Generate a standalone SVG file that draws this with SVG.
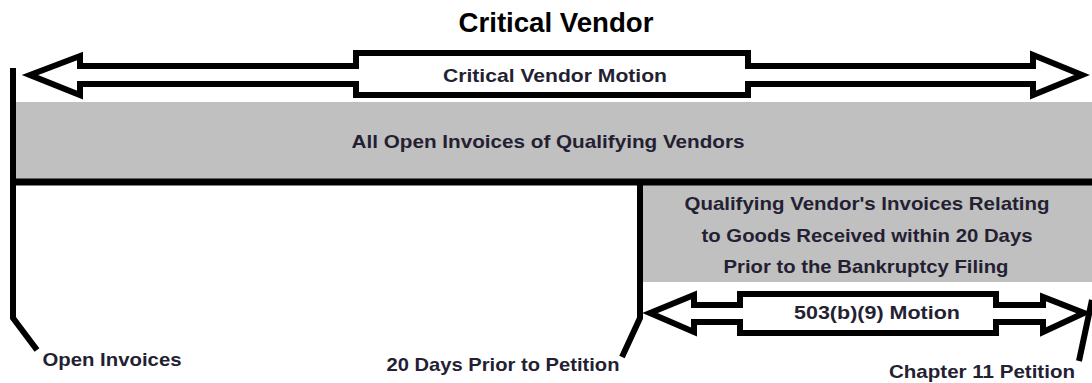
<svg xmlns="http://www.w3.org/2000/svg" width="1092" height="383" viewBox="0 0 1092 383">
<style>
.t{font-family:"Liberation Sans",Arial,sans-serif;font-weight:bold;font-size:19px;fill:#241f33;text-anchor:middle}
.title{font-family:"Liberation Sans",Arial,sans-serif;font-weight:bold;font-size:27px;fill:#000;text-anchor:middle}
.band{fill:#c0c0c0}
.ln{fill:none;stroke:#000;stroke-width:6;stroke-linejoin:miter}
.arr{fill:#fff;stroke:#000;stroke-width:6;stroke-linejoin:miter}
</style>
<rect width="1092" height="383" fill="#fff"/>
<g id="title"><text class="title" x="556" y="32" textLength="195" lengthAdjust="spacingAndGlyphs">Critical Vendor</text></g>
<g id="all-open-invoices">
<rect class="band" x="13" y="102" width="1079" height="77"/>
<text class="t" x="548" y="148" textLength="393" lengthAdjust="spacingAndGlyphs">All Open Invoices of Qualifying Vendors</text>
</g>
<g id="qualifying-20-days">
<rect class="band" x="640" y="185" width="452" height="97"/>
<text class="t" x="867" y="210" textLength="365" lengthAdjust="spacingAndGlyphs">Qualifying Vendor's Invoices Relating</text>
<text class="t" x="867" y="242" textLength="331" lengthAdjust="spacingAndGlyphs">to Goods Received within 20 Days</text>
<text class="t" x="866" y="273" textLength="285" lengthAdjust="spacingAndGlyphs">Prior to the Bankruptcy Filing</text>
</g>
<g id="connectors">
<path class="ln" d="M13,68 L13,318 L37,350"/>
<path class="ln" d="M13,182 L1092,182" style="stroke-width:7"/>
<path class="ln" d="M640,182 L640,318 L622,357"/>
<path class="ln" d="M1092,300 L1079,361"/>
</g>
<g id="critical-vendor-motion">
<path class="arr" d="M30,75 L80,56 L80,66 L356,66 L356,53 L748,53 L748,66 L1033,66 L1033,55 L1082,75 L1033,95 L1033,84 L748,84 L748,95 L356,95 L356,84 L80,84 L80,95 Z"/>
<text class="t" x="555" y="82" textLength="224" lengthAdjust="spacingAndGlyphs">Critical Vendor Motion</text>
</g>
<g id="motion-503b9">
<path class="arr" d="M650,313 L694,295 L694,305 L740,305 L740,294 L996,294 L996,305 L1043,305 L1043,297 L1084,313 L1043,332 L1043,322 L996,322 L996,333 L740,333 L740,322 L694,322 L694,332 Z"/>
<text class="t" x="877" y="319" textLength="166" lengthAdjust="spacingAndGlyphs">503(b)(9) Motion</text>
</g>
<g id="label-open-invoices"><text class="t" x="112" y="366" textLength="139" lengthAdjust="spacingAndGlyphs">Open Invoices</text></g>
<g id="label-20-days"><text class="t" x="503" y="371" textLength="233" lengthAdjust="spacingAndGlyphs">20 Days Prior to Petition</text></g>
<g id="label-chapter-11"><text class="t" x="982" y="378" textLength="186" lengthAdjust="spacingAndGlyphs">Chapter 11 Petition</text></g>
</svg>
